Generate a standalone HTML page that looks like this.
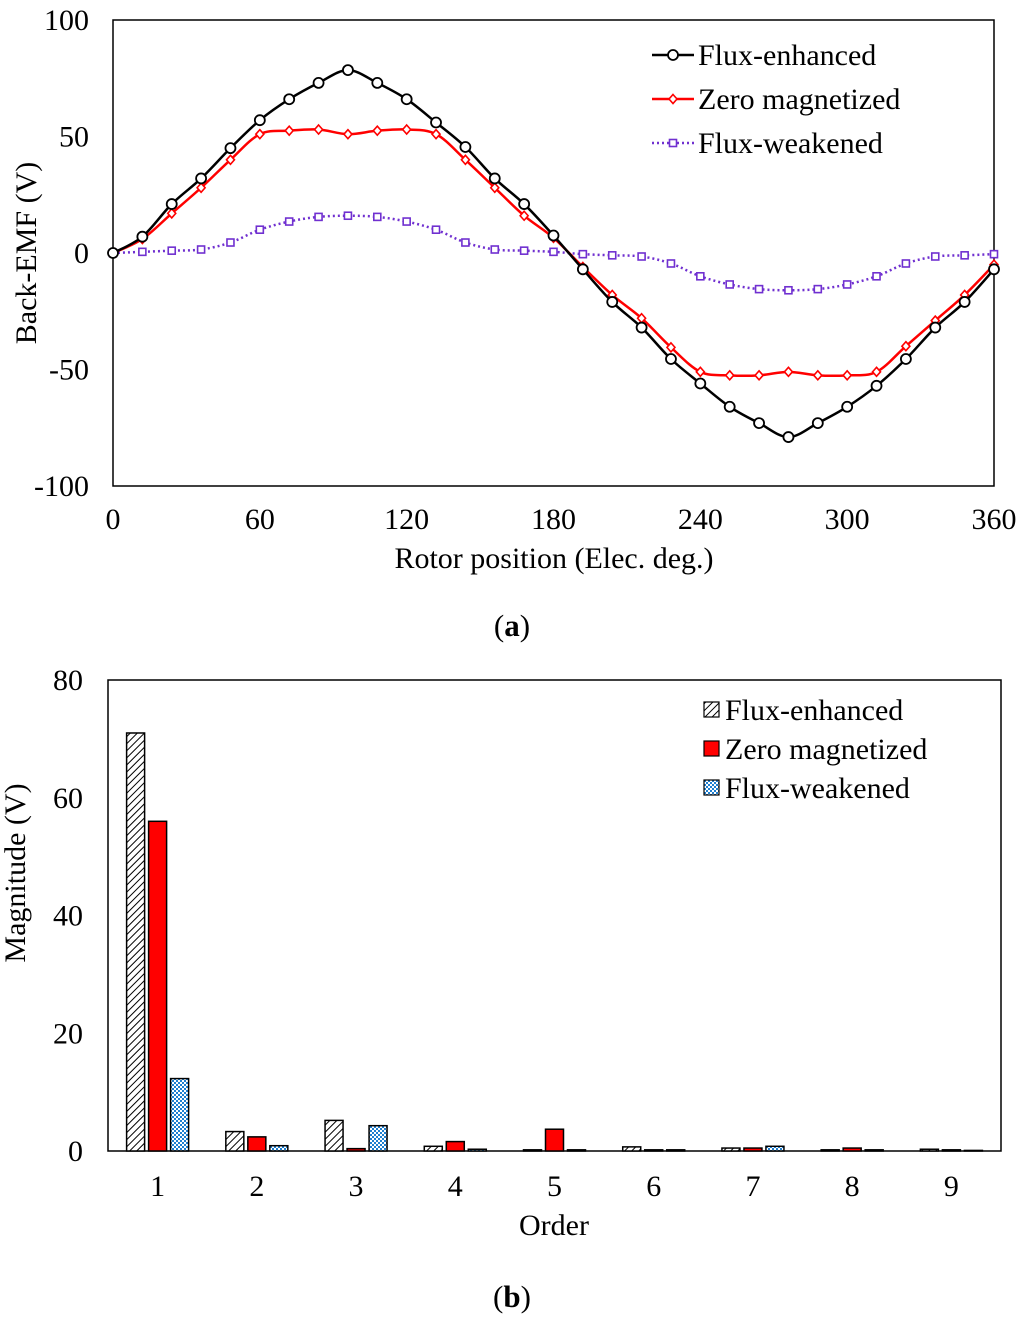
<!DOCTYPE html>
<html><head><meta charset="utf-8"><style>
body{margin:0;background:#fff;width:1024px;height:1325px;overflow:hidden}
svg text{font-family:"Liberation Serif",serif;fill:#000}
</style></head><body>
<svg id="s" width="1024" height="1325" viewBox="0 0 1024 1325" xmlns="http://www.w3.org/2000/svg">
<defs>
<pattern id="hatch" patternUnits="userSpaceOnUse" width="5" height="5" patternTransform="rotate(45)"><rect width="5" height="5" fill="#fff"/><line x1="0" y1="0" x2="0" y2="5" stroke="#000" stroke-width="2"/></pattern>
<pattern id="check" patternUnits="userSpaceOnUse" width="4" height="4"><rect width="4" height="4" fill="#fff"/><rect width="2" height="2" fill="#1f7fd0"/><rect x="2" y="2" width="2" height="2" fill="#1f7fd0"/></pattern>
</defs>
<g id="top"></g>
<g id="bot"></g>
<text x="512" y="636" font-size="31" text-anchor="middle">(<tspan font-weight="bold">a</tspan>)</text>
<text x="512" y="1307" font-size="31" text-anchor="middle">(<tspan font-weight="bold">b</tspan>)</text>
</svg>
<script>
const angles=[0,12,24,36,48,60,72,84,96,108,120,132,144,156,168,180,192,204,216,228,240,252,264,276,288,300,312,324,336,348,360];
const enhanced=[0,7,21,32,45,57,66,73,78.5,73,66,56,45.5,32,21,7.5,-7,-21,-32,-45.5,-56,-66,-73,-79,-73,-66,-57,-45.5,-32,-21,-7];
const zeroMag=[0,6,17,28,40,51,52.5,53,51,52.5,53,51,40,28,16,6.5,-6,-18,-28,-40.5,-51,-52.5,-52.5,-51,-52.5,-52.5,-51,-40,-29,-18,-5];
const weakened=[0,0.5,1,1.5,4.5,10,13.5,15.5,16,15.5,13.5,10,4.5,1.5,1,0.5,-0.5,-1,-1.5,-4.5,-10,-13.5,-15.5,-16,-15.5,-13.5,-10,-4.5,-1.5,-1,-0.5];
const xTicks=[0,60,120,180,240,300,360];
const yTicks=[100,50,0,-50,-100];
const orders=[1,2,3,4,5,6,7,8,9];
const barEnh=[71,3.3,5.2,0.8,0.2,0.7,0.5,0.2,0.3];
const barZero=[56,2.4,0.4,1.6,3.7,0.2,0.5,0.5,0.2];
const barWeak=[12.3,0.9,4.3,0.3,0.2,0.2,0.8,0.2,0.1];
const yTicks2=[0,20,40,60,80];
const NS="http://www.w3.org/2000/svg";
const FS=30;
function mk(p,t,a,txt){const e=document.createElementNS(NS,t);for(const k in a)e.setAttribute(k,a[k]);if(txt!==undefined)e.textContent=txt;p.appendChild(e);return e;}
// Top chart
const T=document.getElementById('top');
const X=a=>113+(a/360)*(994-113), Y=v=>253-(v/100)*(253-20);
let r=mk(T,'rect',{x:113,y:20,width:881,height:466,fill:'none',stroke:'#000','stroke-width':1.5});


xTicks.forEach(t=>{const e=mk(T,'text',{x:X(t),y:529,'font-size':FS,'text-anchor':'middle'},t);

});
yTicks.forEach(t=>{const e=mk(T,'text',{x:89,y:Y(t)+10,'font-size':FS,'text-anchor':'end'},t);

});
let xt=mk(T,'text',{x:554,y:568,'font-size':FS,'text-anchor':'middle'},'Rotor position (Elec. deg.)');


let yt=mk(T,'text',{x:0,y:0,'font-size':FS,'text-anchor':'middle',transform:'translate(36,253) rotate(-90)'},'Back-EMF (V)');


function spline(vals){const p=vals.map((v,i)=>[X(angles[i]),Y(v)]);let d='M'+p[0][0]+','+p[0][1];
for(let i=0;i<p.length-1;i++){const p0=p[Math.max(0,i-1)],p1=p[i],p2=p[i+1],p3=p[Math.min(p.length-1,i+2)];
const c1=[p1[0]+(p2[0]-p0[0])/6,p1[1]+(p2[1]-p0[1])/6],c2=[p2[0]-(p3[0]-p1[0])/6,p2[1]-(p3[1]-p1[1])/6];
d+=`C${c1[0]},${c1[1]} ${c2[0]},${c2[1]} ${p2[0]},${p2[1]}`;}return d;}
function series(vals,color,marker,dash,name){
const g=mk(T,'g',{});


mk(g,'path',{d:spline(vals),fill:'none',stroke:color,'stroke-width':2.5,'stroke-dasharray':dash||'none'});
vals.forEach((v,i)=>drawMarker(g,X(angles[i]),Y(v),color,marker));}
function drawMarker(g,x,y,c,m){
if(m==='o')mk(g,'circle',{cx:x,cy:y,r:5,fill:'#fff',stroke:c,'stroke-width':1.8});
else if(m==='d')mk(g,'polygon',{points:`${x},${y-4.5} ${x+4},${y} ${x},${y+4.5} ${x-4},${y}`,fill:'#fff',stroke:c,'stroke-width':1.6});
else mk(g,'rect',{x:x-3.5,y:y-3.5,width:7,height:7,fill:'#fff',stroke:c,'stroke-width':1.6});}
series(weakened,'#7030d0','s','2,3','series-flux-weakened');
series(zeroMag,'#ff0000','d',null,'series-zero-magnetized');
series(enhanced,'#000','o',null,'series-flux-enhanced');
[['Flux-enhanced','#000','o',null,55],['Zero magnetized','#ff0000','d',null,99],['Flux-weakened','#7030d0','s','2,3',143]].forEach(l=>{
const g=mk(T,'g',{});


mk(g,'line',{x1:652,x2:694,y1:l[4],y2:l[4],stroke:l[1],'stroke-width':2.5,'stroke-dasharray':l[3]||'none'});
drawMarker(g,673,l[4],l[1],l[2]);
mk(g,'text',{x:698,y:l[4]+10,'font-size':FS},l[0]);});
// Bottom chart
const B=document.getElementById('bot');
const bx0=108,bx1=1001,by0=680,by1=1151,cw=(bx1-bx0)/9;
const BY=v=>by1-(v/80)*(by1-by0), BX=i=>bx0+cw*(i+0.5);
let r2=mk(B,'rect',{x:bx0,y:by0,width:bx1-bx0,height:by1-by0,fill:'none',stroke:'#000','stroke-width':1.5});


yTicks2.forEach(t=>{const e=mk(B,'text',{x:83,y:BY(t)+10,'font-size':FS,'text-anchor':'end'},t);

});
orders.forEach((o,i)=>{const e=mk(B,'text',{x:BX(i),y:1196,'font-size':FS,'text-anchor':'middle'},o);

});
let xt2=mk(B,'text',{x:554,y:1235,'font-size':FS,'text-anchor':'middle'},'Order');


let yt2=mk(B,'text',{x:0,y:0,'font-size':FS,'text-anchor':'middle',transform:'translate(25,873) rotate(-90)'},'Magnitude (V)');


const sets=[[barEnh,'url(#hatch)',-22,'bar-flux-enhanced'],[barZero,'#ff0000',0,'bar-zero-magnetized'],[barWeak,'url(#check)',22,'bar-flux-weakened']];
sets.forEach(s=>s[0].forEach((v,i)=>{const b=mk(B,'rect',{x:BX(i)+s[2]-9,y:BY(v),width:18,height:BY(0)-BY(v),fill:s[1],stroke:'#000','stroke-width':1.5});

}));
[['Flux-enhanced','url(#hatch)',710],['Zero magnetized','#ff0000',749],['Flux-weakened','url(#check)',788]].forEach(l=>{
const g=mk(B,'g',{});


mk(g,'rect',{x:704,y:l[2]-8,width:15,height:15,fill:l[1],stroke:'#000','stroke-width':1.2});
mk(g,'text',{x:725,y:l[2]+10,'font-size':FS},l[0]);});
</script>
</body></html>
